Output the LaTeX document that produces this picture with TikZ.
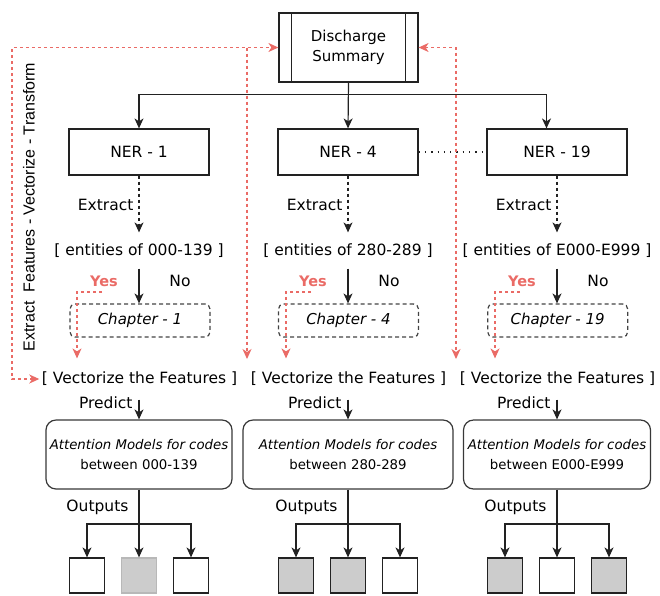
\documentclass[tikz,border=0pt]{standalone}
\usepackage{fontspec}
\setmainfont{DejaVu Sans}
\newfontfamily\lsans{Liberation Sans}
\usetikzlibrary{arrows.meta}
\definecolor{redl}{HTML}{EA6B66}
\definecolor{ink}{HTML}{222222}
\definecolor{fillg}{HTML}{CCCCCC}
\definecolor{lgline}{HTML}{B8B8B8}
\begin{document}
\begin{tikzpicture}[x=1pt,y=-1pt,line width=1.2pt,
  >={Stealth[length=10pt,width=9pt,inset=3pt]},
  arr/.style={draw=ink,->},
  darr/.style={draw=ink,->,dash pattern=on 3pt off 3pt},
  rline/.style={draw=redl,dash pattern=on 3pt off 3pt},
  lbl/.style={inner sep=0pt,font=\fontsize{15.5}{18}\selectfont},
  nerbox/.style={draw=ink,minimum width=140pt,minimum height=46pt,inner sep=0pt,font=\fontsize{15.5}{18}\selectfont},
  chapbox/.style={draw=ink!85,dash pattern=on 4pt off 3pt,rounded corners=5pt,minimum width=140pt,minimum height=33pt,inner sep=0pt,font=\fontsize{15}{18}\selectfont\itshape},
  attbox/.style={draw=ink!90,rounded corners=10pt,minimum height=69pt,inner sep=0pt,align=center,font=\fontsize{13.3}{20}\selectfont},
  obox/.style={draw=ink,minimum width=35pt,minimum height=35pt,inner sep=0pt},
  yeslbl/.style={inner sep=0pt,text=redl,font=\fontsize{14.5}{16}\selectfont\bfseries},
]
\useasboundingbox (0,0) rectangle (660,595);

% Discharge summary
\node[draw=ink,minimum width=139pt,minimum height=69pt,inner sep=0pt,align=center,
  font=\fontsize{15}{19.5}\selectfont] (ds) at (348.5,47.5) {Discharge\\Summary};
\draw[ink] ([xshift=13pt]ds.north west) -- ([xshift=13pt]ds.south west);
\draw[ink] ([xshift=-13pt]ds.north east) -- ([xshift=-13pt]ds.south east);

\foreach \cx/\nm/\kk/\rg/\bw/\chx in {139/a/1/000-139/186/140,348/b/4/280-289/210/348.5,557/c/19/E000-E999/187/557.7}{
  \node[nerbox] (ner\nm) at (\cx,152) {NER - \kk};
  \node[lbl,anchor=east] (ex\nm) at (\cx-5,205) {Extract};
  \node[lbl,minimum height=35pt] (ent\nm) at (\cx,250.5) {[ entities of \rg\ ]};
  \draw[darr] (ner\nm.south) -- (ent\nm.north);
  \node[chapbox] (ch\nm) at (\chx,320.5) {Chapter - \kk};
  \draw[arr] (ent\nm.south) -- (ch\nm.north -| ent\nm.south);
  \node[yeslbl] (yes\nm) at (\cx-35,281) {Yes};
  \node[lbl] (no\nm) at (\cx+41,281) {No};
  \node[lbl,minimum height=40pt,inner sep=2pt] (vec\nm) at (\cx+0.5,379) {[ Vectorize the Features ]};
  \draw[rline,->] (\cx-37,292) -| ([xshift=-62.5pt]vec\nm.north);
  \node[lbl,anchor=east] (pr\nm) at (\cx-6,402.5) {Predict};
  \node[attbox,minimum width=\bw pt] (att\nm) at (\cx,454.5) {\textit{Attention Models for codes}\\between \rg};
  \draw[arr] (vec\nm.south -| att\nm.north) -- (att\nm.north);
  \node[lbl,anchor=east] (out\nm) at (\cx-10,507) {Outputs};
  \coordinate (j\nm) at (\cx,524);
}

% bus from discharge summary
\draw[arr] (ds.south) -- (nerb.north);
\draw[arr] (ds.south) -- ++(0,11.5) -| (nera.north);
\draw[arr] (ds.south) -- ++(0,11.5) -| ([xshift=-10.5pt]nerc.north);
\draw[ink,dash pattern=on 1.3pt off 5pt,line width=1.5pt] (nerb.east) -- (nerc.west);

% output squares
\node[obox,fill=white] (oa1) at (87,575.5) {};
\node[obox,fill=fillg,draw=lgline] (oa2) at (139,575.5) {};
\node[obox,fill=white] (oa3) at (191,575.5) {};
\node[obox,fill=fillg] (ob1) at (296,575.5) {};
\node[obox,fill=fillg] (ob2) at (348,575.5) {};
\node[obox,fill=white] (ob3) at (400,575.5) {};
\node[obox,fill=fillg] (oc1) at (505,575.5) {};
\node[obox,fill=white] (oc2) at (557,575.5) {};
\node[obox,fill=fillg] (oc3) at (609,575.5) {};
\foreach \nm in {a,b,c}{
  \draw[arr] (att\nm.south) -- (o\nm2.north);
  \draw[arr] (j\nm) -| (o\nm1.north);
  \draw[arr] (j\nm) -| (o\nm3.north);
}

% red feedback loops
\coordinate (lt) at (12,47.5);
\coordinate (lm) at (247,47.5);
\coordinate (rt) at (456,47.5);
\draw[rline,<->] (veca.west) -| (lt) -- (ds.west);
\draw[rline,->] (lm) -- (247,359);
\draw[rline,<->] (ds.east) -- (rt) -- (456,359);

% vertical caption
\node[rotate=90,inner sep=0pt,font=\lsans\fontsize{16}{18}\selectfont] (cap) at (29,207) {Extract\ \ Features - Vectorize - Transform};
\end{tikzpicture}
\end{document}
